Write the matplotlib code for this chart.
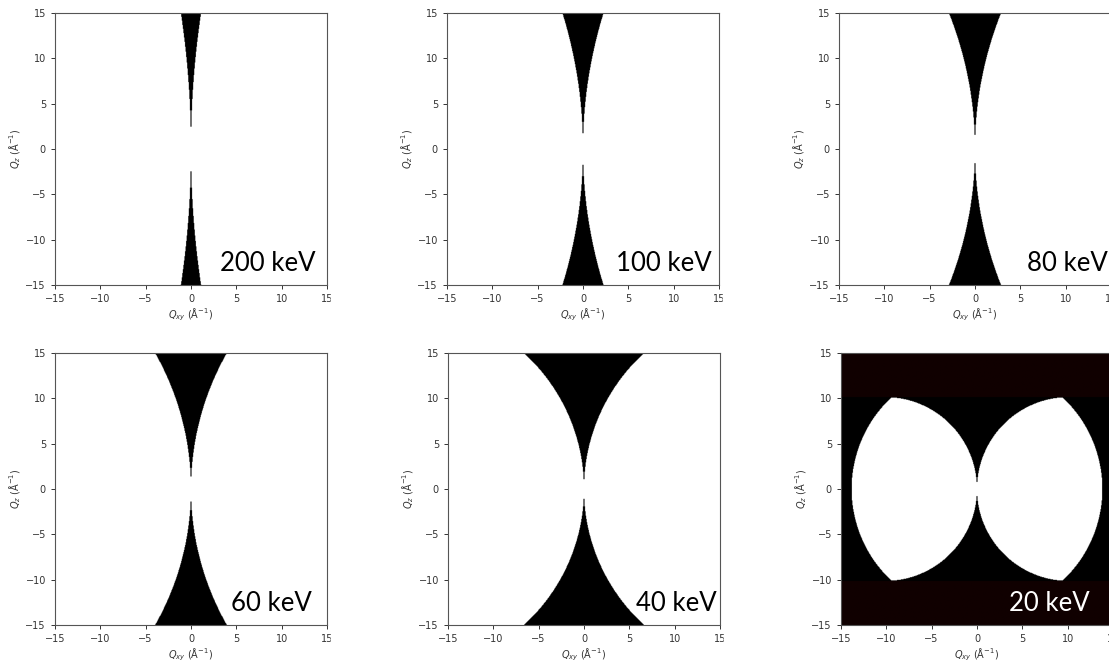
import numpy as np
import matplotlib
matplotlib.use('Agg')
import matplotlib.pyplot as plt
from matplotlib.colors import ListedColormap
from matplotlib.patches import Rectangle

# photon energies of the six panels (keV)
energies = [200, 100, 80, 60, 40, 20]
two_theta_max = 86.0          # detector limit (deg)
HC = 12.398                   # keV * Angstrom

# where the energy label sits in each panel (data coords)
label_x = [13.7, 14.2, 14.6, 13.3, 14.6, 12.4]
label_y = -13.5
label_color = ['black'] * 5 + ['white']

# axes boxes in pixels (left, top) for a 1109x661 figure, size 272 px
W, H = 1109, 661
boxes = [(55, 13), (447, 13), (839, 13),
         (55, 353), (448, 353), (841, 353)]
size = 272

# grid of reciprocal space
edges = np.linspace(-15, 15, 501)
centers = (edges[:-1] + edges[1:]) / 2
qxy, qz = np.meshgrid(centers, centers)


def access_map(E):
    # 0 = reachable, 1 = not reachable, 2 = beyond Ewald sphere top
    k = 2 * np.pi * E / HC
    qmax = 2 * k * np.sin(np.radians(two_theta_max / 2))
    qsq = qxy ** 2 + qz ** 2
    ok = (qsq <= 2 * k * np.abs(qxy)) & (qsq <= qmax ** 2)
    img = np.where(ok, 0, 1)
    img = np.where(np.abs(qz) > k, 2, img)
    return img


cmap = ListedColormap(['white', 'black', '#100000'])

fig = plt.figure(figsize=(W / 100, H / 100), dpi=100)

for i, E in enumerate(energies):
    x0, y0 = boxes[i]
    ax = fig.add_axes([x0 / W, (H - y0 - size) / H, size / W, size / H])
    ax.imshow(access_map(E), extent=(-15, 15, -15, 15), origin='lower',
              cmap=cmap, vmin=-0.5, vmax=2.5, aspect='auto',
              interpolation='antialiased', interpolation_stage='rgba')
    ax.set_xlim(-15, 15)
    ax.set_ylim(-15, 15)
    ax.set_xticks([-15, -10, -5, 0, 5, 10, 15])
    ax.set_yticks([-15, -10, -5, 0, 5, 10, 15])
    ax.tick_params(labelsize=7, colors='#333333', length=3, width=0.7)
    for s in ax.spines.values():
        s.set_color('#555555')
        s.set_linewidth(0.8)
    ax.set_xlabel(r'$Q_{xy}$ (Å$^{-1}$)', fontsize=7, color='#333333', labelpad=2)
    ax.set_ylabel(r'$Q_z$ (Å$^{-1}$)', fontsize=7, color='#333333', labelpad=2)
    ax.text(label_x[i], label_y, f'{E} keV', ha='right', va='baseline',
            fontsize=18.5, family='Lato', color=label_color[i])

# the source panels were cropped just right of each frame
for x0, y0 in boxes:
    if x0 > 800:
        continue
    rx = x0 + size + 4
    ry = y0 + size + 2
    fig.add_artist(Rectangle((rx / W, (H - ry - 14) / H), 16 / W, 14 / H,
                             transform=fig.transFigure, color='white', zorder=10))

fig.savefig('out.png', dpi=100)
